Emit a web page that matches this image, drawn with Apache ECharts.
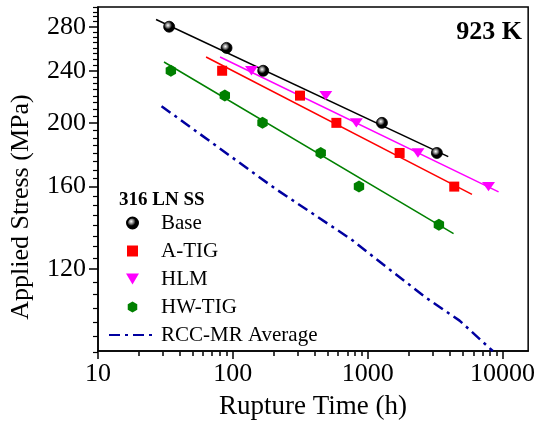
<!DOCTYPE html>
<html>
<head>
<meta charset="utf-8">
<script src="https://cdn.jsdelivr.net/npm/echarts@6/dist/echarts.min.js"></script>
<style>
html,body{margin:0;padding:0;background:#fff;}
#chart{width:538px;height:425px;}
</style>
</head>
<body>
<div id="chart"></div>
<script>
// ---- data ----
const baseTime = [33.7, 89.8, 168, 1276, 3261];
const baseStress = [280, 260, 240, 200, 180];
const atigTime = [83.3, 315, 586, 1726, 4387];
const atigStress = [240, 220, 200, 180, 160];
const hlmTime = [137.5, 489, 824, 2359, 7875];
const hlmStress = [240, 220, 200, 180, 160];
const hwTime = [34.7, 87.2, 166, 448.6, 862, 3375];
const hwStress = [240, 220, 200, 180, 160, 140];

const baseFitTime = [26.9, 3914];
const baseFitStress = [287.2, 178.0];
const atigFitTime = [63.1, 5865];
const atigFitStress = [252.0, 156.0];
const hlmFitTime = [80.1, 9230];
const hlmFitStress = [252.0, 157.4];
const hwFitTime = [30.8, 4285];
const hwFitStress = [247.6, 136.0];

const rccTime = [29.6, 205, 757, 1291, 2722, 4803, 7147, 8474];
const rccStress = [212, 159, 133, 122, 108.4, 100.1, 92.9, 90];

const xTickLabels = [10, 100, 1000, 10000];
const yTickLabels = [120, 160, 200, 240, 280];
const xMinorTicks = [20,30,40,50,60,70,80,90,200,300,400,500,600,700,800,900,2000,3000,4000,5000,6000,7000,8000,9000];
const yMinorTicks = [];
for (let v = 90; v <= 300; v += 5) { if (yTickLabels.indexOf(v) < 0) yMinorTicks.push(v); }

const zip = (a, b) => a.map((v, i) => [v, b[i]]);
const FONT = 'Liberation Serif';
const X_MIN = 10, X_MAX = 15500, Y_MIN = 90, Y_MAX = 300;
const GRID = {left: 98, right: 9, top: 7, bottom: 73};

const ball = {
  type: 'radial', x: 0.4, y: 0.38, r: 0.62,
  colorStops: [
    {offset: 0, color: '#ffffff'},
    {offset: 0.28, color: '#8a8a8a'},
    {offset: 0.55, color: '#000000'},
    {offset: 1, color: '#000000'}
  ]
};
const hexPath = 'path://M0,-1L0.866,-0.5L0.866,0.5L0,1L-0.866,0.5L-0.866,-0.5Z';
const squarePath = 'path://M-1,-1L1,-1L1,1L-1,1Z';
const triDownPath = 'path://M-1,-0.85L1,-0.85L0,0.85Z';

const chart = echarts.init(document.getElementById('chart'), null, {renderer: 'canvas'});
chart.setOption({
  animation: false,
  backgroundColor: '#fff',
  grid: [
    Object.assign({show: true, borderColor: '#000', borderWidth: 1.5, backgroundColor: 'transparent'}, GRID),
    Object.assign({show: false}, GRID)
  ],
  title: [
    {text: '923 K', right: 11, top: 14, textStyle: {fontFamily: FONT, fontSize: 26, fontWeight: 'bold', color: '#000'}},
    {text: '316 LN SS', left: 114, top: 186, textStyle: {fontFamily: FONT, fontSize: 19, fontWeight: 'bold', color: '#000'}}
  ],
  legend: {
    data: ['Base', 'A-TIG', 'HLM', 'HW-TIG', {name: 'RCC-MR Average', itemStyle: {opacity: 0}}],
    orient: 'vertical', left: 103, top: 207,
    itemWidth: 47, itemHeight: 11, itemGap: 6,
    symbolKeepAspect: true,
    textStyle: {fontFamily: FONT, fontSize: 21, color: '#000', lineHeight: 22}
  },
  xAxis: [{
    type: 'log', logBase: 10, min: X_MIN, max: X_MAX, gridIndex: 0,
    position: 'bottom',
    name: 'Rupture Time (h)', nameLocation: 'middle', nameGap: 42,
    nameTextStyle: {fontFamily: FONT, fontSize: 27, color: '#000'},
    axisLine: {show: true, onZero: false, lineStyle: {color: '#000', width: 1.5}},
    axisTick: {show: true, inside: false, length: 8, lineStyle: {color: '#000', width: 1.5}, customValues: xTickLabels},
    axisLabel: {fontFamily: FONT, fontSize: 26, color: '#000', margin: 10, customValues: xTickLabels,
      formatter: v => String(Math.round(v))},
    splitLine: {show: false}
  }, {
    type: 'log', logBase: 10, min: X_MIN, max: X_MAX, gridIndex: 1,
    position: 'bottom',
    axisLine: {show: false, onZero: false},
    axisTick: {show: true, inside: false, length: 4, lineStyle: {color: '#000', width: 1.5}, customValues: xMinorTicks},
    axisLabel: {show: false},
    splitLine: {show: false}
  }],
  yAxis: [{
    type: 'log', logBase: 10, min: Y_MIN, max: Y_MAX, gridIndex: 0,
    position: 'left',
    name: 'Applied Stress (MPa)', nameLocation: 'middle', nameGap: 64, nameRotate: 90,
    nameTextStyle: {fontFamily: FONT, fontSize: 26, color: '#000', padding: [0, 56, 0, 0]},
    axisLine: {show: true, onZero: false, lineStyle: {color: '#000', width: 1.5}},
    axisTick: {show: true, inside: false, length: 9, lineStyle: {color: '#000', width: 1.5}, customValues: yTickLabels},
    axisLabel: {fontFamily: FONT, fontSize: 26, color: '#000', margin: 12, customValues: yTickLabels,
      formatter: v => String(Math.round(v))},
    splitLine: {show: false}
  }, {
    type: 'log', logBase: 10, min: Y_MIN, max: Y_MAX, gridIndex: 1,
    position: 'left',
    axisLine: {show: false, onZero: false},
    axisTick: {show: true, inside: false, length: 5, lineStyle: {color: '#000', width: 1.2}, customValues: yMinorTicks},
    axisLabel: {show: false},
    splitLine: {show: false}
  }],
  series: [
    {name: 'Base fit', type: 'line', xAxisIndex: 1, yAxisIndex: 1, data: zip(baseFitTime, baseFitStress), symbol: 'none', lineStyle: {color: '#000', width: 1.5}, z: 2},
    {name: 'A-TIG fit', type: 'line', xAxisIndex: 1, yAxisIndex: 1, data: zip(atigFitTime, atigFitStress), symbol: 'none', lineStyle: {color: '#ff0000', width: 1.5}, z: 2},
    {name: 'HLM fit', type: 'line', xAxisIndex: 1, yAxisIndex: 1, data: zip(hlmFitTime, hlmFitStress), symbol: 'none', lineStyle: {color: '#ff00ff', width: 1.5}, z: 2},
    {name: 'HW-TIG fit', type: 'line', xAxisIndex: 1, yAxisIndex: 1, data: zip(hwFitTime, hwFitStress), symbol: 'none', lineStyle: {color: '#008000', width: 1.5}, z: 2},
    {name: 'RCC-MR Average', type: 'line', xAxisIndex: 0, yAxisIndex: 0, data: zip(rccTime, rccStress), symbol: 'none', color: '#0000a0',
      lineStyle: {color: '#0000a0', width: 2.5, type: [11, 5, 3, 5]}, z: 2},
    {name: 'Base', type: 'scatter', data: zip(baseTime, baseStress), symbol: 'circle', symbolSize: 11,
      itemStyle: {color: ball, borderColor: '#000', borderWidth: 0.8, opacity: 1}, z: 5},
    {name: 'A-TIG', type: 'scatter', data: zip(atigTime, atigStress), symbol: squarePath, symbolSize: 10, symbolKeepAspect: true,
      itemStyle: {color: '#ff0000', opacity: 1}, z: 5},
    {name: 'HLM', type: 'scatter', data: zip(hlmTime, hlmStress), symbol: triDownPath, symbolSize: [13, 11], symbolKeepAspect: true,
      itemStyle: {color: '#ff00ff', opacity: 1}, z: 5},
    {name: 'HW-TIG', type: 'scatter', data: zip(hwTime, hwStress), symbol: hexPath, symbolSize: 12, symbolKeepAspect: true,
      itemStyle: {color: '#008000', opacity: 1}, z: 5}
  ]
});
</script>
</body>
</html>
